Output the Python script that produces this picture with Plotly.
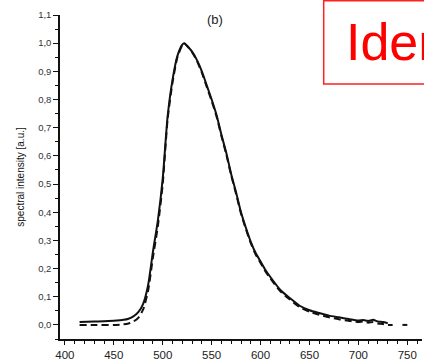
import plotly.graph_objects as go

# wavelength (nm) and normalized spectral intensity
wl_solid = [415, 430, 450, 460, 465, 470, 475, 480, 485, 490, 495, 500, 505, 510, 515, 520, 522,
            525, 530, 535, 540, 545, 550, 555, 560, 565, 570, 575, 580, 585, 590, 595, 600,
            605, 610, 620, 630, 640, 650, 660, 670, 680, 690, 700, 705, 710, 715, 720, 725, 730]
int_solid = [0.010, 0.012, 0.015, 0.018, 0.022, 0.030, 0.045, 0.075, 0.14, 0.26, 0.37, 0.52, 0.74,
             0.87, 0.955, 0.995, 1.0, 0.99, 0.97, 0.94, 0.90, 0.85, 0.80, 0.745, 0.675, 0.61, 0.535,
             0.47, 0.40, 0.345, 0.295, 0.255, 0.225, 0.195, 0.17, 0.125, 0.095, 0.068, 0.052, 0.042,
             0.033, 0.027, 0.021, 0.016, 0.017, 0.014, 0.018, 0.012, 0.010, 0.006]

wl_dash = [415, 430, 450, 460, 465, 470, 475, 480, 485, 490, 495, 500, 505, 510, 515, 520, 522,
           525, 530, 535, 540, 545, 550, 555, 560, 565, 570, 575, 580, 585, 590, 595, 600,
           605, 610, 620, 630, 640, 650, 660, 670, 680, 690, 700, 705, 710, 715, 720, 725, 730, 735,
           None, 745, 750]
int_dash = [0.0, 0.0, 0.0, 0.002, 0.005, 0.012, 0.025, 0.055, 0.12, 0.24, 0.35, 0.50, 0.73, 0.86,
            0.95, 0.993, 1.0, 0.99, 0.968, 0.937, 0.895, 0.845, 0.795, 0.74, 0.67, 0.605, 0.53,
            0.465, 0.395, 0.34, 0.29, 0.25, 0.22, 0.19, 0.165, 0.12, 0.09, 0.063, 0.047, 0.036,
            0.027, 0.020, 0.015, 0.010, 0.012, 0.008, 0.010, 0.005, 0.003, 0.0, 0.0,
            None, 0.0, 0.0]

x_ticks = [400, 450, 500, 550, 600, 650, 700, 750]
y_ticks = [0.0, 0.1, 0.2, 0.3, 0.4, 0.5, 0.6, 0.7, 0.8, 0.9, 1.0, 1.1]
y_ticktext = ["0,0", "0,1", "0,2", "0,3", "0,4", "0,5", "0,6", "0,7", "0,8", "0,9", "1,0", "1,1"]

L, R, T, B = 60, 2, 15, 22
W, H = 424, 361
PW, PH = W - L - R, H - T - B


def px_x(p):
    return (p - L) / PW


def px_y(p):
    return (H - B - p) / PH


fig = go.Figure()
fig.add_trace(go.Scatter(x=wl_dash, y=int_dash, mode="lines",
                         line=dict(color="#111", width=2, dash="7px,4px", shape="spline", smoothing=0.6),
                         connectgaps=False, showlegend=False))
fig.add_trace(go.Scatter(x=wl_solid, y=int_solid, mode="lines",
                         line=dict(color="#111", width=2, shape="spline", smoothing=0.6),
                         showlegend=False))

fig.update_layout(
    template="none",
    width=W, height=H,
    margin=dict(l=L, r=R, t=T, b=B, pad=0),
    paper_bgcolor="white", plot_bgcolor="white",
    font=dict(family="Liberation Sans, Arial, sans-serif", color="#222"),
    xaxis=dict(range=[395, 765], tickvals=x_ticks, ticktext=[str(v) for v in x_ticks],
               automargin=False,
               ticks="outside", ticklen=4, tickwidth=1.2, tickcolor="#111",
               showline=True, linecolor="#111", linewidth=1.5, showgrid=False, zeroline=False,
               tickfont=dict(size=11.5, color="#222"),
               minor=dict(dtick=10, tick0=400, ticks="outside", ticklen=3, tickcolor="#111",
                          tickwidth=1, showgrid=False)),
    yaxis=dict(range=[-0.05, 1.1], tickvals=y_ticks, ticktext=y_ticktext,
               automargin=False,
               ticks="outside", ticklen=5, tickwidth=1.2, tickcolor="#111",
               showline=True, linecolor="#111", linewidth=1.5, showgrid=False, zeroline=False,
               tickfont=dict(size=9.5, color="#333"),
               minor=dict(dtick=0.05, tick0=0, ticks="outside", ticklen=3, tickcolor="#111",
                          tickwidth=1, showgrid=False),
               title=dict(text="spectral intensity [a.u.]", font=dict(size=10, color="#111"), standoff=12)),
)

fig.add_annotation(xref="paper", yref="paper", x=px_x(215), y=px_y(19), text="(b)",
                   showarrow=False, xanchor="center", yanchor="middle",
                   font=dict(size=13, color="#222"))

fig.add_shape(type="rect", xref="paper", yref="paper",
              x0=px_x(323.7), x1=px_x(432), y0=px_y(84), y1=px_y(0.7),
              line=dict(color="#ff2020", width=1.5), fillcolor="white")
fig.add_annotation(xref="paper", yref="paper", x=px_x(344), y=px_y(42),
                   xanchor="left", yanchor="middle", text="Iden", showarrow=False,
                   font=dict(size=52, color="#ff0000", family="Liberation Sans, Arial, sans-serif"))

fig.write_html("out.html", config={"displayModeBar": False},
               post_script="document.body.style.margin='0';document.body.style.overflow='hidden';")
